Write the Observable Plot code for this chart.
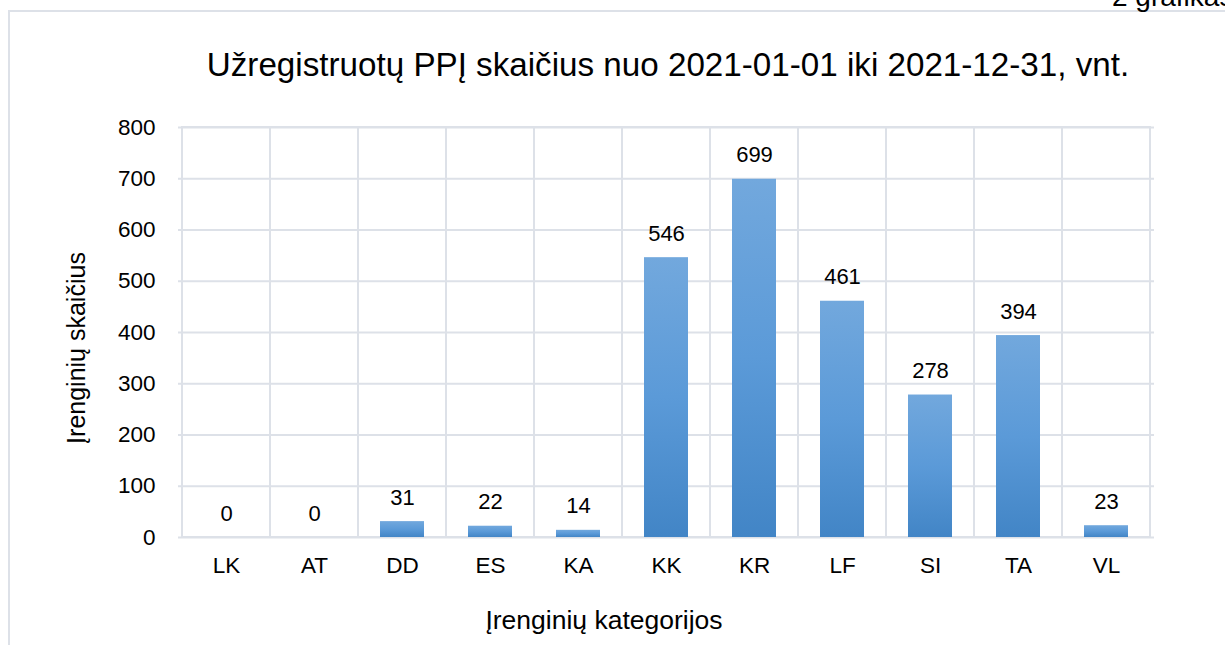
<!DOCTYPE html>
<html>
<head>
<meta charset="utf-8">
<script src="https://cdn.jsdelivr.net/npm/d3@7"></script>
<script src="https://cdn.jsdelivr.net/npm/@observablehq/plot@0.6"></script>
<style>
  html, body { margin: 0; padding: 0; background: #fff; overflow: hidden; }
  #wrap { position: relative; width: 1225px; height: 645px; font-family: "Liberation Sans", Arial, sans-serif; color: #000; overflow: hidden; }
  #box { position: absolute; left: 8px; top: 10px; width: 1300px; height: 700px; border-left: 2px solid #dde1e8; border-top: 2px solid #dde1e8; }
  .lbl { position: absolute; white-space: nowrap; line-height: 1; }
  #chart { position: absolute; left: 0; top: 0; }
</style>
</head>
<body>
<div id="wrap">
  <div id="box"></div>
  <div id="chart"></div>
  <div class="lbl" id="fig" style="left:1112px; top:-17px; font-size:28px;">2 grafikas</div>
  <div class="lbl" id="title" style="left:0; width:1336px; text-align:center; top:48px; font-size:33.2px;">Užregistruotų PPĮ skaičius nuo 2021-01-01 iki 2021-12-31, vnt.</div>
  <div class="lbl" id="xlab" style="left:0; width:1208px; text-align:center; top:607px; font-size:26.5px;">Įrenginių kategorijos</div>
  <div class="lbl" id="ylab" style="left:76px; top:348px; font-size:25px; transform: translate(-50%,-50%) rotate(-90deg);">Įrenginių skaičius</div>
</div>
<script>
const categories = ["LK", "AT", "DD", "ES", "KA", "KK", "KR", "LF", "SI", "TA", "VL"];
const counts = [0, 0, 31, 22, 14, 546, 699, 461, 278, 394, 23];
const yTicks = [0, 100, 200, 300, 400, 500, 600, 700, 800];

const data = categories.map((c, i) => ({cat: c, value: counts[i]}));
const grid = "#dde1e8";

const plot = Plot.plot({
  width: 1225,
  height: 645,
  marginLeft: 178,
  marginRight: 71,
  marginTop: 127,
  marginBottom: 108,
  style: {fontFamily: "Liberation Sans, Arial, sans-serif", fontSize: "22.5px", color: "#000", background: "transparent"},
  x: {domain: categories, padding: 0, label: null, tickSize: 0, tickPadding: 20},
  y: {domain: [0, 800], ticks: yTicks, label: null, tickSize: 0, tickPadding: 23},
  marks: [
    Plot.ruleY(yTicks, {stroke: grid, strokeWidth: 2}),
    Plot.cell(categories, {x: d => d, fill: "none", stroke: grid, strokeWidth: 2}),
    Plot.barY(data, {x: "cat", y: "value", fill: "url(#barGrad)", insetLeft: 22, insetRight: 22}),
    Plot.text(data, {x: "cat", y: "value", text: d => String(d.value), dy: -24, fontSize: 22, fill: "#000"})
  ]
});

const ns = "http://www.w3.org/2000/svg";
const defs = document.createElementNS(ns, "defs");
const lg = document.createElementNS(ns, "linearGradient");
lg.setAttribute("id", "barGrad");
lg.setAttribute("x1", "0"); lg.setAttribute("y1", "0");
lg.setAttribute("x2", "0"); lg.setAttribute("y2", "1");
[["0%", "#72a8dd"], ["50%", "#5b9ad8"], ["100%", "#4285c6"]].forEach(([o, c]) => {
  const s = document.createElementNS(ns, "stop");
  s.setAttribute("offset", o); s.setAttribute("stop-color", c);
  lg.appendChild(s);
});
defs.appendChild(lg);
plot.insertBefore(defs, plot.firstChild);
document.getElementById("chart").appendChild(plot);
</script>
</body>
</html>
